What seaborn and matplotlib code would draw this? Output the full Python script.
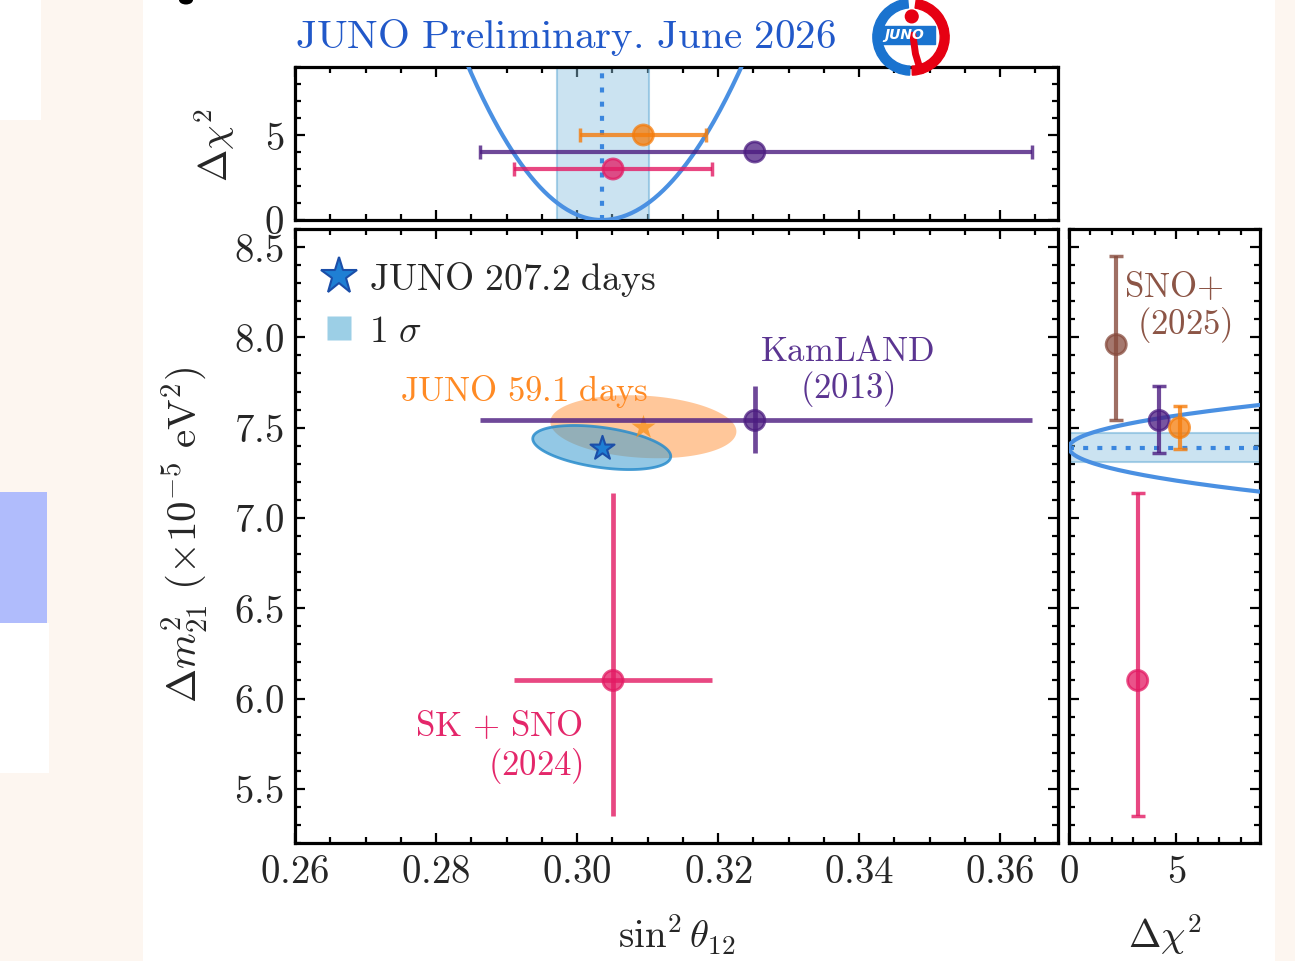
import numpy as np
import pandas as pd
import matplotlib
matplotlib.use("Agg")
import matplotlib.pyplot as plt
import seaborn as sns
from matplotlib.ticker import MultipleLocator, FuncFormatter
from matplotlib.patches import Rectangle, Wedge, Circle, Ellipse
from matplotlib.lines import Line2D

# ---------------- data ----------------
# JUNO 207.2 days: best fit and 1 sigma
juno_s12 = 0.3035
juno_dm = 7.39
juno_s12_sig_lo = 0.0063
juno_s12_sig_hi = 0.0066
juno_dm_sig_lo = 0.082
juno_dm_sig_hi = 0.079
juno_s12_band = [0.2972, 0.3102]
juno_dm_band = [7.31, 7.47]
juno_rho = -0.40

# JUNO 59.1 days
juno59_s12 = 0.3094
juno59_dm = 7.505
juno59_s12_sig = 0.0087
juno59_dm_sig = 0.115
juno59_rho = -0.15

# other measurements
exp_names = ["SK + SNO", "KamLAND", "JUNO 59.1 days", "SNO+"]
exp_s12 = [0.3051, 0.3252, 0.3094, np.nan]
exp_s12_lo = [0.0140, 0.0390, 0.0090, np.nan]
exp_s12_hi = [0.0141, 0.0393, 0.0089, np.nan]
exp_dm = [6.10, 7.54, 7.50, 7.96]
exp_dm_lo = [0.75, 0.18, 0.12, 0.42]
exp_dm_hi = [1.04, 0.19, 0.12, 0.49]
exp_top_chi2 = [3.0, 4.0, 5.0, np.nan]
exp_right_chi2 = [3.2, 4.2, 5.15, 2.2]
exp_colors = ["#e31a63", "#4b1c80", "#f57c0b", "#874b3d"]

x_ticks_main = [0.26, 0.28, 0.30, 0.32, 0.34, 0.36]
y_ticks_main = [5.5, 6.0, 6.5, 7.0, 7.5, 8.0, 8.5]

df = pd.DataFrame({"exp": exp_names, "s12": exp_s12, "s12_lo": exp_s12_lo,
                   "s12_hi": exp_s12_hi, "dm": exp_dm, "dm_lo": exp_dm_lo,
                   "dm_hi": exp_dm_hi, "top": exp_top_chi2,
                   "right": exp_right_chi2, "color": exp_colors})
pal = dict(zip(exp_names, exp_colors))

# ---------------- style ----------------
sns.set_theme(style="ticks")
plt.rcParams["font.family"] = ["DejaVu Serif", "DejaVu Sans"]
plt.rcParams["mathtext.fontset"] = "cm"
plt.rcParams["axes.unicode_minus"] = False

W, H = 1295, 961
fig = plt.figure(figsize=(W / 100, H / 100), dpi=100, facecolor="#fdf6f0")


def px(x0, y0, x1, y1):
    return [x0 / W, 1 - y1 / H, (x1 - x0) / W, (y1 - y0) / H]


def frect(x0, y0, x1, y1, color):
    fig.add_artist(Rectangle((x0 / W, 1 - y1 / H), (x1 - x0) / W, (y1 - y0) / H,
                             transform=fig.transFigure, color=color, lw=0, zorder=0))


# page background pieces
frect(143, 0, 1275, 961, "white")
frect(0, 0, 41, 120, "white")
frect(0, 492, 47, 623, "#b0bcfc")
frect(0, 623, 49, 773, "white")
fig.add_artist(Ellipse((186 / W, 1.0), 14 / W, 9 / H, transform=fig.transFigure,
                       color="black", lw=0, zorder=1))

ax = fig.add_axes(px(295, 229, 1058, 843))
ax_top = fig.add_axes(px(295, 67, 1058, 220))
ax_r = fig.add_axes(px(1069, 229, 1260, 843))


def style(a):
    a.set_facecolor("white")
    for s in a.spines.values():
        s.set_visible(True)
        s.set_linewidth(2.3)
        s.set_color("black")
    a.tick_params(which="both", direction="in", top=True, right=True,
                  bottom=True, left=True, width=1.6, color="black")
    a.tick_params(which="major", length=7.5, labelsize=28, pad=8)
    a.tick_params(which="minor", length=4)
    a.set_xlabel("")
    a.set_ylabel("")


def ellipse(cx, cy, sx, sy, rho, k2=2.30, n=400):
    t = np.linspace(0, 2 * np.pi, n)
    k = np.sqrt(k2)
    x = cx + k * sx * np.cos(t)
    y = cy + k * sy * (rho * np.cos(t) + np.sqrt(1 - rho ** 2) * np.sin(t))
    return x, y


def draw_points(a, d, xcol, ycol, xerr=None, yerr=None, capsize=0, lw=3):
    for _, r in d.iterrows():
        xe = None if xerr is None else [[r[xerr[0]]], [r[xerr[1]]]]
        ye = None if yerr is None else [[r[yerr[0]]], [r[yerr[1]]]]
        a.errorbar(r[xcol], r[ycol], xerr=xe, yerr=ye, fmt="none", ecolor=r["color"],
                   alpha=0.8, elinewidth=lw, capsize=capsize, capthick=2.5, zorder=6)
    sns.scatterplot(data=d, x=xcol, y=ycol, hue="exp", palette=pal, s=210,
                    alpha=0.75, linewidth=2, edgecolor="face", legend=False,
                    ax=a, zorder=7)


# ---------------- main panel ----------------
ax.fill(*ellipse(juno59_s12, juno59_dm, juno59_s12_sig, juno59_dm_sig, juno59_rho),
        color="#ffb070", alpha=0.7, lw=0, zorder=1)
ax.fill(*ellipse(juno_s12, juno_dm, 0.5 * (juno_s12_sig_lo + juno_s12_sig_hi),
                 0.5 * (juno_dm_sig_lo + juno_dm_sig_hi), juno_rho),
        facecolor=(0.23, 0.61, 0.82, 0.55), edgecolor=(0.16, 0.55, 0.80, 0.85),
        lw=2, zorder=3)
draw_points(ax, df[df.exp.isin(["SK + SNO", "KamLAND"])], "s12", "dm",
            xerr=("s12_lo", "s12_hi"), yerr=("dm_lo", "dm_hi"), lw=3.4)
sns.scatterplot(x=[juno59_s12], y=[juno59_dm], marker="*", s=330, color="#f89018",
                alpha=0.75, linewidth=0, ax=ax, zorder=4)
sns.scatterplot(x=[juno_s12], y=[juno_dm], marker="*", s=330, color="#1f7fd4",
                edgecolor="#1b4ea8", linewidth=1.5, ax=ax, zorder=8)

ax.set_xlim(0.26, 0.3682)
ax.set_ylim(5.2, 8.6)
style(ax)
ax.set_xticks(x_ticks_main)
ax.set_yticks(y_ticks_main)
ax.xaxis.set_minor_locator(MultipleLocator(0.005))
ax.yaxis.set_minor_locator(MultipleLocator(0.1))
ax.xaxis.set_major_formatter(FuncFormatter(lambda v, p: f"${v:.2f}$"))
ax.yaxis.set_major_formatter(FuncFormatter(lambda v, p: f"${v:.1f}$"))

ax.text(0.2925, 7.70, r"$\mathrm{JUNO\ 59.1\ days}$", color="#ff8a24",
        fontsize=25, ha="center", va="center", zorder=9)
ax.text(0.3383, 7.81, "$\\mathrm{KamLAND}$\n$\\mathrm{(2013)}$", color="#5b3591",
        fontsize=25, ha="center", va="center", linespacing=1.05, zorder=9)
ax.text(0.3009, 5.73, "$\\mathrm{SK}\\,+\\,\\mathrm{SNO}$\n$\\mathrm{(2024)}$",
        color="#e4276a", fontsize=25, ha="right", va="center",
        multialignment="right", linespacing=1.1, zorder=9)

handles = [Line2D([], [], marker="*", ls="none", markersize=28,
                  markerfacecolor="#1f7fd4", markeredgecolor="#1b4ea8",
                  markeredgewidth=1.5),
           Line2D([], [], marker="s", ls="none", markersize=17,
                  markerfacecolor="#9ccfe6", markeredgecolor="none")]
leg = ax.legend(handles, [r"$\mathrm{JUNO\ 207.2\ days}$", r"$1\ \sigma$"],
                loc="upper left", bbox_to_anchor=(-0.006, 0.998), frameon=False,
                fontsize=27, handlelength=1.0, handleheight=0.9,
                handletextpad=0.3, labelspacing=0.38, borderpad=0.3)

# ---------------- top panel ----------------
s12_grid = np.linspace(0.26, 0.3682, 500)
chi_top = np.where(s12_grid < juno_s12,
                   ((s12_grid - juno_s12) / juno_s12_sig_lo) ** 2,
                   ((s12_grid - juno_s12) / juno_s12_sig_hi) ** 2)
ax_top.axvspan(*juno_s12_band, facecolor=(0.55, 0.76, 0.88, 0.45),
               edgecolor=(0.45, 0.70, 0.85, 0.6), lw=1.5, zorder=1)
sns.lineplot(x=s12_grid, y=chi_top, color="#4a90e2", lw=3, ax=ax_top, zorder=3)
ax_top.axvline(juno_s12, color="#3a86de", lw=3, ls=(0, (1.2, 2.2)), zorder=2)
draw_points(ax_top, df[df.exp != "SNO+"], "s12", "top",
            xerr=("s12_lo", "s12_hi"), capsize=5)
ax_top.set_xlim(0.26, 0.3682)
ax_top.set_ylim(0, 9)
style(ax_top)
ax_top.set_xticks(x_ticks_main)
ax_top.xaxis.set_minor_locator(MultipleLocator(0.005))
ax_top.yaxis.set_major_locator(MultipleLocator(5))
ax_top.yaxis.set_minor_locator(MultipleLocator(1))
ax_top.tick_params(labelbottom=False)
ax_top.yaxis.set_major_formatter(FuncFormatter(lambda v, p: f"${v:.0f}$"))

# ---------------- right panel ----------------
dm_grid = np.linspace(6.9, 7.9, 500)
chi_r = np.where(dm_grid < juno_dm,
                 ((dm_grid - juno_dm) / juno_dm_sig_lo) ** 2,
                 ((dm_grid - juno_dm) / juno_dm_sig_hi) ** 2)
ax_r.axhspan(*juno_dm_band, facecolor=(0.55, 0.76, 0.88, 0.45),
             edgecolor=(0.45, 0.70, 0.85, 0.6), lw=1.5, zorder=1)
sns.lineplot(x=chi_r, y=dm_grid, sort=False, estimator=None, color="#4a90e2",
             lw=3, ax=ax_r, zorder=3)
ax_r.axhline(juno_dm, color="#3a86de", lw=3, ls=(0, (1.2, 2.2)), zorder=2)
draw_points(ax_r, df, "right", "dm", yerr=("dm_lo", "dm_hi"), capsize=5)
ax_r.set_xlim(0, 8.9)
ax_r.set_ylim(5.2, 8.6)
style(ax_r)
ax_r.xaxis.set_major_locator(MultipleLocator(5))
ax_r.xaxis.set_minor_locator(MultipleLocator(1))
ax_r.set_yticks(y_ticks_main)
ax_r.yaxis.set_minor_locator(MultipleLocator(0.1))
ax_r.tick_params(labelleft=False)
ax_r.xaxis.set_major_formatter(FuncFormatter(lambda v, p: f"${v:.0f}$"))
ax_r.text(4.86, 8.28, r"$\mathrm{SNO{+}}$", color="#8c5546", fontsize=25,
          ha="center", va="center")
ax_r.text(5.37, 8.07, r"$\mathrm{(2025)}$", color="#8c5546", fontsize=25,
          ha="center", va="center")

# ---------------- labels ----------------
fig.text(295 / W, 1 - 48 / H, r"$\mathrm{JUNO\ Preliminary.\!\ June\ 2026}$",
         color="#2158c9", fontsize=29.5, ha="left", va="baseline")
fig.text(677 / W, 1 - 935 / H, r"$\sin^2\theta_{12}$", fontsize=28,
         ha="center", va="center")
fig.text(1165 / W, 1 - 935 / H, r"$\Delta\chi^2$", fontsize=28,
         ha="center", va="center")
fig.text(184 / W, 1 - 535 / H, r"$\Delta m^2_{21}\ (\times 10^{-5}\ \mathrm{eV}^2)$",
         fontsize=29.5, ha="center", va="center", rotation=90)
fig.text(215 / W, 1 - 145 / H, r"$\Delta\chi^2$", fontsize=28,
         ha="center", va="center", rotation=90)

# ---------------- logo ----------------
lax = fig.add_axes(px(868, -6, 954, 80))
lax.set_xlim(-1.15, 1.15)
lax.set_ylim(-1.15, 1.15)
lax.axis("off")
lax.add_patch(Wedge((0, 0), 1.02, 95, 268, width=0.24, color="#1a73cf"))
lax.add_patch(Wedge((0, 0), 1.02, -88, 82, width=0.24, color="#e60012"))
lax.add_patch(Circle((0.02, 0.55), 0.17, color="#e60012"))
lax.plot([0.05, 0.12, 0.22, 0.28], [0.05, -0.45, -0.78, -0.9], color="#e60012",
         lw=5, solid_capstyle="round")
lax.add_patch(Rectangle((-0.95, -0.18), 1.6, 0.48, color="#1a73cf"))
lax.text(-0.18, 0.06, "JUNO", color="white", fontsize=10, fontweight="bold",
         style="italic", ha="center", va="center", family="DejaVu Sans")

fig.savefig("out.png", dpi=100, facecolor=fig.get_facecolor())
